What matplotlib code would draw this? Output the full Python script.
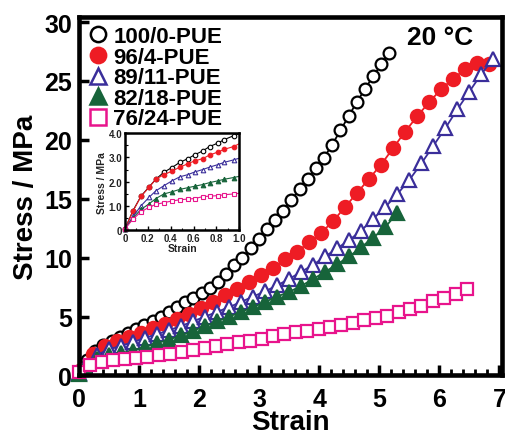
import matplotlib
matplotlib.use("Agg")
import matplotlib.pyplot as plt
from matplotlib.lines import Line2D
from matplotlib.ticker import MultipleLocator

plt.rcParams['font.family'] = ['Liberation Sans', 'DejaVu Sans']
plt.rcParams['font.weight'] = 'bold'

labels = ["100/0-PUE", "96/4-PUE", "89/11-PUE", "82/18-PUE", "76/24-PUE"]
colors = ["black", "#ee1c24", "#3a2e9a", "#17643a", "#e8148c"]
markers = ["o", "o", "^", "^", "s"]
filled = [False, True, False, True, False]

# main curves
strain_a = [0.000, 0.136, 0.272, 0.408, 0.544, 0.680, 0.816, 0.952, 1.088, 1.224,
            1.360, 1.496, 1.632, 1.768, 1.904, 2.040, 2.176, 2.312, 2.448, 2.584,
            2.720, 2.856, 2.992, 3.128, 3.264, 3.400, 3.536, 3.672, 3.808, 3.944,
            4.080, 4.216, 4.352, 4.488, 4.624, 4.760, 4.896, 5.032, 5.168]
stress_a = [0.3, 1.35, 2.1, 2.58, 2.95, 3.27, 3.6, 3.95, 4.3, 4.65,
            5.0, 5.4, 5.8, 6.2, 6.6, 7.0, 7.45, 7.95, 8.65, 9.35,
            10.0, 10.8, 11.6, 12.4, 13.2, 14.0, 14.9, 15.8, 16.7, 17.6,
            18.5, 19.6, 20.8, 22.0, 23.2, 24.3, 25.4, 26.4, 27.4]

strain_b = [0.03, 0.23, 0.43, 0.63, 0.83, 1.03, 1.23, 1.43, 1.63, 1.83,
            2.03, 2.23, 2.43, 2.63, 2.83, 3.03, 3.23, 3.43, 3.63, 3.83,
            4.03, 4.23, 4.43, 4.63, 4.83, 5.03, 5.23, 5.43, 5.63, 5.83,
            6.03, 6.23, 6.43, 6.63, 6.83]
stress_b = [0.5, 1.85, 2.48, 2.9, 3.25, 3.6, 4.0, 4.4, 4.8, 5.2,
            5.7, 6.2, 6.8, 7.35, 7.9, 8.5, 9.15, 9.85, 10.5, 11.3,
            12.1, 13.1, 14.3, 15.5, 16.7, 17.9, 19.3, 20.7, 22.0, 23.2,
            24.3, 25.2, 26.0, 26.5, 26.4]

strain_c = [0.0, 0.1, 0.3, 0.5, 0.7, 0.9, 1.1, 1.3, 1.5, 1.7,
            1.9, 2.1, 2.3, 2.5, 2.7, 2.9, 3.1, 3.3, 3.5, 3.7,
            3.9, 4.1, 4.3, 4.5, 4.7, 4.9, 5.1, 5.3, 5.5, 5.7,
            5.9, 6.1, 6.3, 6.5, 6.7, 6.9]
stress_c = [0.2, 0.75, 1.75, 2.22, 2.52, 2.83, 3.2, 3.5, 3.85, 4.2,
            4.6, 5.0, 5.4, 5.8, 6.25, 6.7, 7.15, 7.65, 8.2, 8.8,
            9.4, 10.1, 10.8, 11.5, 12.3, 13.3, 14.3, 15.4, 16.6, 18.0,
            19.5, 21.0, 22.6, 24.1, 25.6, 26.9]

strain_d = [0.0, 0.1, 0.3, 0.5, 0.7, 0.9, 1.1, 1.3, 1.5, 1.7,
            1.9, 2.1, 2.3, 2.5, 2.7, 2.9, 3.1, 3.3, 3.5, 3.7,
            3.9, 4.1, 4.3, 4.5, 4.7, 4.9, 5.1, 5.3]
stress_d = [0.15, 0.65, 1.4, 1.7, 1.9, 2.12, 2.45, 2.75, 3.05, 3.4,
            3.8, 4.2, 4.6, 5.0, 5.4, 5.8, 6.25, 6.7, 7.1, 7.6,
            8.2, 8.8, 9.45, 10.1, 10.9, 11.7, 12.6, 13.8]

strain_e = [0.00, 0.19, 0.38, 0.57, 0.76, 0.95, 1.14, 1.33, 1.52, 1.71,
            1.90, 2.09, 2.28, 2.47, 2.66, 2.85, 3.04, 3.23, 3.42, 3.61,
            3.80, 3.99, 4.18, 4.37, 4.56, 4.75, 4.94, 5.13, 5.32, 5.51,
            5.70, 5.89, 6.08, 6.27, 6.46]
stress_e = [0.3, 0.9, 1.17, 1.3, 1.41, 1.49, 1.6, 1.72, 1.85, 2.0,
            2.15, 2.32, 2.5, 2.65, 2.8, 2.95, 3.12, 3.32, 3.5, 3.65,
            3.78, 3.95, 4.15, 4.3, 4.48, 4.68, 4.85, 5.08, 5.38, 5.65,
            5.9, 6.3, 6.6, 6.95, 7.35]

# inset curves (small strain)
inset_strain = [0, 0.07, 0.14, 0.21, 0.27, 0.34, 0.41, 0.48, 0.55, 0.61,
                0.68, 0.74, 0.81, 0.87, 0.95, 1.0]
inset_a = [0.05, 0.8, 1.4, 1.78, 2.1, 2.39, 2.58, 2.8, 2.95, 3.11, 3.27, 3.45, 3.59, 3.74, 3.9, 3.98]
inset_b = [0.05, 0.78, 1.39, 1.76, 2.1, 2.29, 2.43, 2.6, 2.74, 2.86, 2.95, 3.1, 3.22, 3.34, 3.45, 3.57]
inset_c = [0.05, 0.56, 1.0, 1.35, 1.62, 1.83, 2.03, 2.2, 2.29, 2.4, 2.5, 2.6, 2.7, 2.8, 2.9, 2.97]
inset_d = [0.05, 0.5, 0.85, 1.08, 1.3, 1.49, 1.58, 1.68, 1.75, 1.81, 1.88, 1.96, 2.03, 2.1, 2.17, 2.22]
inset_e = [0.05, 0.45, 0.75, 0.94, 1.06, 1.13, 1.2, 1.25, 1.28, 1.3, 1.38, 1.4, 1.42, 1.46, 1.49, 1.52]

main_x = [strain_a, strain_b, strain_c, strain_d, strain_e]
main_y = [stress_a, stress_b, stress_c, stress_d, stress_e]
inset_y = [inset_a, inset_b, inset_c, inset_d, inset_e]
sizes = [8.5, 9.5, 10, 10, 8.5]

fig = plt.figure(figsize=(5.05, 4.39), dpi=100)
ax = fig.add_axes([0.1564, 0.1424, 0.8386, 0.8159])

for xs, ys, c, m, f, s in zip(main_x, main_y, colors, markers, filled, sizes):
    ax.plot(xs, ys, color=c, lw=1.3, marker=m, ms=s, mew=1.6,
            mfc=c if f else 'white', mec=c, clip_on=False)

ax.set_xlim(0, 7.05)
ax.set_ylim(0, 30.4)
ax.xaxis.set_major_locator(MultipleLocator(1))
ax.xaxis.set_minor_locator(MultipleLocator(0.2))
ax.yaxis.set_major_locator(MultipleLocator(5))
for sp in ax.spines.values():
    sp.set_linewidth(3.3)
ax.tick_params(which='major', direction='in', length=7, width=2.5, labelsize=18, pad=5)
ax.tick_params(axis='x', which='major', pad=8)
ax.tick_params(which='minor', direction='in', length=4, width=2)
ax.tick_params(axis='y', which='minor', left=False)
ax.set_xlabel("Strain", fontsize=20, fontweight='bold', labelpad=-1)
ax.set_ylabel("Stress / MPa", fontsize=20, fontweight='bold', labelpad=4)
ax.text(0.853, 0.945, "20 °C", transform=ax.transAxes, fontsize=19,
        fontweight='bold', ha='center', va='center')

handles = [Line2D([], [], ls='none', marker=m, ms=11, mew=1.8, color=c,
                  mfc=c if f else 'white', mec=c)
           for c, m, f in zip(colors, markers, filled)]
ax.legend(handles, labels, loc='upper left', bbox_to_anchor=(0.0, 1.0),
          frameon=False, handlelength=0.9, handletextpad=0.25,
          labelspacing=-0.02, borderaxespad=0.2, borderpad=0.2,
          prop={'weight': 'bold', 'size': 16})

# inset
ins = fig.add_axes([0.2475, 0.4738, 0.2263, 0.2203])
for ys, c, m, f in zip(inset_y, colors, markers, filled):
    ins.plot(inset_strain, ys, color=c, lw=0.8, marker=m, ms=3.3, mew=0.8,
             mfc=c if f else 'white', mec=c, markevery=slice(0, -1), clip_on=False)
ins.set_xlim(0, 1.0)
ins.set_ylim(0, 4.0)
ins.set_xticks([0, 0.2, 0.4, 0.6, 0.8, 1.0])
ins.set_xticklabels(["0", "0.2", "0.4", "0.6", "0.8", "1.0"])
ins.set_yticks([0, 1, 2, 3, 4])
ins.set_yticklabels(["0", "1.0", "2.0", "3.0", "4.0"])
ins.xaxis.set_minor_locator(MultipleLocator(0.1))
ins.yaxis.set_minor_locator(MultipleLocator(0.5))
for sp in ins.spines.values():
    sp.set_linewidth(1.8)
ins.tick_params(which='major', direction='in', length=3, width=1, labelsize=7, pad=2,
                labelcolor='#222222')
ins.tick_params(which='minor', direction='in', length=1.8, width=0.8)
ins.set_xlabel("Strain", fontsize=7.5, fontweight='bold', labelpad=0, color='#222222')
ins.set_ylabel("Stress / MPa", fontsize=7.5, fontweight='bold', labelpad=1, color='#222222')

fig.savefig("out.png", dpi=100)
